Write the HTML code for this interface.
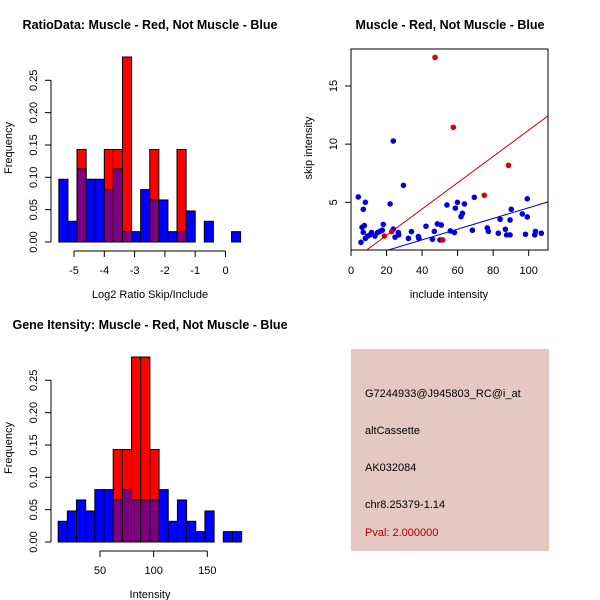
<!DOCTYPE html>
<html><head><meta charset="utf-8"><style>
html,body{margin:0;padding:0;background:#fff;}
svg{display:block;font-family:"Liberation Sans",sans-serif;}
</style></head><body>
<svg id="s" width="600" height="600" viewBox="0 0 600 600" xmlns="http://www.w3.org/2000/svg">
<g><text x="150" y="29" text-anchor="middle" font-size="12.5" font-weight="bold">RatioData: Muscle - Red, Not Muscle - Blue</text></g>
<text x="450" y="29" text-anchor="middle" font-size="12.5" font-weight="bold">Muscle - Red, Not Muscle - Blue</text>
<text x="150" y="329" text-anchor="middle" font-size="12.5" font-weight="bold">Gene Itensity: Muscle - Red, Not Muscle - Blue</text>
<g id="h1"></g>
<g id="h2"></g>
<g id="sc"></g>
<g>
<rect x="351" y="349" width="198" height="202" fill="#e5c8c2"/>
<text x="365" y="397" font-size="11">G7244933@J945803_RC@i_at</text>
<text x="365" y="434" font-size="11">altCassette</text>
<text x="365" y="471" font-size="11">AK032084</text>
<text x="365" y="508" font-size="11">chr8.25379-1.14</text>
<text x="365" y="536" font-size="11" fill="#a00000">Pval: 2.000000</text>
</g>
</svg>
<script>
const NS="http://www.w3.org/2000/svg";
// ratio histogram data
const ratioBinStart=-5.5, ratioBinWidth=0.3;
const ratioBlue=[0.097,0.032,0.113,0.097,0.097,0.081,0.113,0.016,0.016,0.081,0.065,0.065,0.016,0.016,0.048,0,0.032,0,0,0.016];
const ratioRed=[0,0,0.143,0,0,0.143,0.143,0.286,0,0,0.143,0,0,0.143,0,0,0,0,0,0];
const ratioTicks=[-5,-4,-3,-2,-1,0];
// intensity histogram data
const intBinStart=11, intBinWidth=8.55;
const intBlue=[0.032,0.048,0.065,0.048,0.081,0.081,0.065,0.081,0.065,0.065,0.065,0.081,0.032,0.065,0.032,0.016,0.048,0,0.016,0.016];
const intRed=[0,0,0,0,0,0,0.143,0.143,0.286,0.286,0.143,0,0,0,0,0,0,0,0,0];
const intTicks=[50,100,150];
const freqTicks=[0,0.05,0.10,0.15,0.20,0.25];
// scatter data
const redX=[47.3,57.6,88.6,75.0,18.8,22.9,51.6];
const redY=[17.46,11.45,8.18,5.6,2.1,2.48,1.76];
const blueX=[4.1,8.1,6.9,22,23.8,29.5,5.6,6.2,7.5,6.9,8.1,9.4,10.7,11.6,13.5,15,16.3,17.6,18.2,23.8,24.8,26.6,26.8,32.3,34,37.9,38.2,42.2,45.8,46.9,48.6,50.8,50.1,54,55.9,58.2,58.7,59.9,61.9,62.7,63.8,68.3,69.4,76.7,77.3,82.9,83.9,86.9,87.6,89.5,89.5,90.2,96.4,98.2,99.2,99.2,103.4,103.8,107.1];
const blueY=[5.46,5.0,4.4,4.86,10.27,6.46,1.56,2.85,3.0,2.42,1.9,2.1,2.2,2.4,2.1,2.4,2.5,2.6,3.1,2.7,2.0,2.4,2.2,1.9,2.48,2.05,1.9,2.94,1.82,2.5,3.14,3.05,1.76,4.77,2.54,2.4,4.5,5.0,3.77,4.05,4.86,2.6,5.43,2.8,2.5,2.34,3.54,2.68,2.2,3.48,2.2,4.4,4.0,2.25,5.3,3.74,2.2,2.5,2.34];
const redFit=[-0.1,0.113]; // intercept, slope
const blueFit=[-0.07,0.046];
const scXTicks=[0,20,40,60,80,100], scYTicks=[5,10,15];

function el(parent,tag,attrs,text){const e=document.createElementNS(NS,tag);for(const k in attrs)e.setAttribute(k,attrs[k]);if(text!==undefined)e.textContent=text;parent.appendChild(e);return e;}

function hist(g,oy,xOf,binStart,binW,blue,red,xticks,xlabel,fmtTick){
  const yOf=v=>oy-v*(161.7/0.25);
  for(let i=0;i<blue.length;i++){
    const x0=xOf(binStart+i*binW), x1=xOf(binStart+(i+1)*binW);
    const b=blue[i], r=red[i];
    if(b>0){const e=el(g,'rect',{x:x0,y:yOf(b),width:x1-x0,height:yOf(0)-yOf(b),fill:'#0000ff',stroke:'#000','stroke-width':1});
      }
    if(r>0){const e=el(g,'rect',{x:x0,y:yOf(r),width:x1-x0,height:yOf(0)-yOf(r),fill:'#ff0000',stroke:'#000','stroke-width':1});
      }
    const m=Math.min(b,r);
    if(m>0){const e=el(g,'rect',{x:x0,y:yOf(m),width:x1-x0,height:yOf(0)-yOf(m),fill:'#7f007f',stroke:'#000','stroke-width':1});
      }
  }
  const ax=51;
  el(g,'line',{x1:ax,y1:yOf(0),x2:ax,y2:yOf(0.25),stroke:'#000'});
  freqTicks.forEach(t=>{el(g,'line',{x1:ax-6,y1:yOf(t),x2:ax,y2:yOf(t),stroke:'#000'});
    const tx=el(g,'text',{x:0,y:0,'font-size':11,'text-anchor':'middle',transform:`translate(${ax-14},${yOf(t)}) rotate(-90)`},t.toFixed(2));
    });
  const yl=el(g,'text',{x:0,y:0,'font-size':11,'text-anchor':'middle',transform:`translate(12,${oy-94}) rotate(-90)`},'Frequency');
  
  const by=oy+9;
  el(g,'line',{x1:xOf(xticks[0]),y1:by,x2:xOf(xticks[xticks.length-1]),y2:by,stroke:'#000'});
  xticks.forEach(t=>{el(g,'line',{x1:xOf(t),y1:by,x2:xOf(t),y2:by+6,stroke:'#000'});
    const tx=el(g,'text',{x:xOf(t),y:by+23,'font-size':11,'text-anchor':'middle'},fmtTick(t));
    });
  const xl=el(g,'text',{x:150,y:oy+56,'font-size':11,'text-anchor':'middle'},xlabel);
  
}
hist(document.getElementById('h1'),242,v=>74+(v+5)*30.3,ratioBinStart,ratioBinWidth,ratioBlue,ratioRed,ratioTicks,'Log2 Ratio Skip/Include',t=>String(t));
hist(document.getElementById('h2'),542,v=>100+(v-50)*1.073,intBinStart,intBinWidth,intBlue,intRed,intTicks,'Intensity',t=>String(t));

(function(){
  const g=document.getElementById('sc');
  const L=351,R=548,T=49,B=250;
  const xOf=v=>351+v*1.777, yOf=v=>202.3-(v-5)*11.63;
  const cp=el(g,'clipPath',{id:'cp'});el(cp,'rect',{x:L,y:T,width:R-L,height:B-T});
  [[redFit,'#cc0000'],[blueFit,'#0000cc']].forEach(([f,c])=>{
    const l=el(g,'line',{x1:xOf(0),y1:yOf(f[0]),x2:xOf(120),y2:yOf(f[0]+f[1]*120),stroke:c,'stroke-width':1,'clip-path':'url(#cp)'});
    });
  blueX.forEach((x,i)=>{const c=el(g,'circle',{cx:xOf(x),cy:yOf(blueY[i]),r:2.8,fill:'#0000dd','clip-path':'url(#cp)'});
    });
  redX.forEach((x,i)=>{const c=el(g,'circle',{cx:xOf(x),cy:yOf(redY[i]),r:2.8,fill:'#dd0000','clip-path':'url(#cp)'});
    });
  el(g,'rect',{x:L,y:T,width:R-L,height:B-T,fill:'none',stroke:'#000'});
  scXTicks.forEach(t=>{el(g,'line',{x1:xOf(t),y1:B,x2:xOf(t),y2:B+6,stroke:'#000'});
    const tx=el(g,'text',{x:xOf(t),y:B+24,'font-size':11,'text-anchor':'middle'},String(t));
    });
  scYTicks.forEach(t=>{el(g,'line',{x1:L-6,y1:yOf(t),x2:L,y2:yOf(t),stroke:'#000'});
    const tx=el(g,'text',{x:0,y:0,'font-size':11,'text-anchor':'middle',transform:`translate(${L-14},${yOf(t)}) rotate(-90)`},String(t));
    });
  const xl=el(g,'text',{x:449,y:298,'font-size':11,'text-anchor':'middle'},'include intensity');
  
  const yl=el(g,'text',{x:0,y:0,'font-size':11,'text-anchor':'middle',transform:'translate(312,148) rotate(-90)'},'skip intensity');
  
})();
</script>
</body></html>
